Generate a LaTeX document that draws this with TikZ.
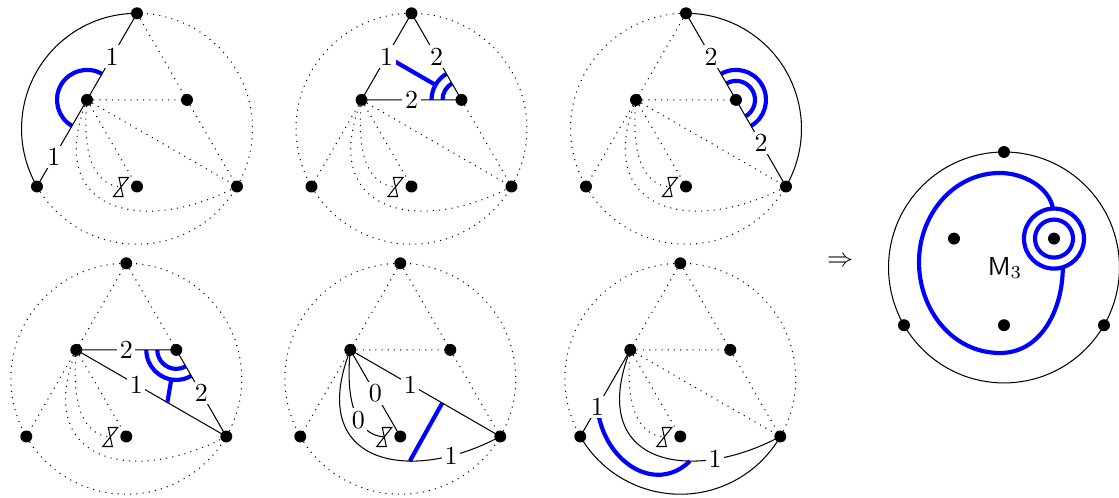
\documentclass[tikz,border=0pt]{standalone}
\usetikzlibrary{calc}
\tikzset{
  dl/.style={dotted},
  bl/.style={blue, line width=1.6pt},
  lab/.style={fill=white, inner sep=1pt},
}
\newcommand\mkpanel[3]{%
  \coordinate (#1T) at (#2,#3);
  \coordinate (#1LM) at ($(#1T)+(-50,86.6)$);
  \coordinate (#1RM) at ($(#1T)+(50,86.6)$);
  \coordinate (#1BL) at ($(#1T)+(-100,173.2)$);
  \coordinate (#1BC) at ($(#1T)+(0,173.2)$);
  \coordinate (#1BR) at ($(#1T)+(100,173.2)$);
  \coordinate (#1H) at ($(#1BC)+(-16,0.5)$);
  \coordinate (#1C) at ($(#1T)+(0,115.47)$);
}
\newcommand\hglass[1]{\draw (#1) +(-2,-9.5) -- +(7.5,-9.5) -- +(-7.5,9.5) -- +(2,9.5) -- cycle;}
\newcommand\arcL[2]{\draw[#1] (#2T) arc[start angle=90,end angle=210,radius=44.41pt];}
\newcommand\arcB[2]{\draw[#1] (#2BL) arc[start angle=210,end angle=330,radius=44.41pt];}
\newcommand\arcR[2]{\draw[#1] (#2BR) arc[start angle=-30,end angle=90,radius=44.41pt];}
\newcommand\lp[1]{(#1LM) .. controls ($(#1LM)+(-45,115)$) and ($(#1LM)+(60,135)$) .. (#1BR)}
\newcommand\hc[1]{(#1LM) .. controls ($(#1LM)+(-5,50)$) and ($(#1LM)+(5,85)$) .. (#1H)}
\begin{document}
\begin{tikzpicture}[x=0.3846pt,y=-0.3846pt]
\useasboundingbox (0,0) rectangle (1119,498);
\mkpanel{a}{137}{13.3}
\mkpanel{b}{411.5}{13.3}
\mkpanel{c}{686}{13.3}
\mkpanel{d}{126.3}{263.3}
\mkpanel{e}{400.3}{263.3}
\mkpanel{f}{680.3}{263.3}
\mkpanel{m}{1004}{152}

% ---------- panel a
\arcR{dl}{a}\arcB{dl}{a}
\draw[dl] (aT)--(aRM) (aRM)--(aBR) (aLM)--(aRM) (aLM)--(aBR) (aLM)--(aBC);
\draw[dl] \hc{a}; \draw[dl] \lp{a};
\draw[bl] (aLM) ++(60:11.54pt) arc[start angle=60,end angle=240,radius=11.54pt];
\arcL{}{a}
\draw (aT) -- node[lab]{1} (aLM) -- node[lab,pos=0.66]{1} (aBL);

% ---------- panel b
\arcL{dl}{b}\arcB{dl}{b}\arcR{dl}{b}
\draw[dl] (bLM)--(bBL) (bRM)--(bBR) (bLM)--(bBR) (bLM)--(bBC);
\draw[dl] \hc{b}; \draw[dl] \lp{b};
\coordinate (bX) at ($(bT)!0.5!(bLM)$);
\draw[bl] ($(bRM)!11.54pt!(bX)$) -- (bX);
\draw[bl] (bRM) ++(120:7.31pt) arc[start angle=120,end angle=180,radius=7.31pt];
\draw[bl] (bRM) ++(120:11.54pt) arc[start angle=120,end angle=180,radius=11.54pt];
\draw (bT) -- node[lab]{1} (bLM) -- node[lab]{2} (bRM) -- node[lab]{2} (bT);

% ---------- panel c
\arcL{dl}{c}\arcB{dl}{c}
\draw[dl] (cT)--(cLM) (cLM)--(cBL) (cLM)--(cRM) (cLM)--(cBR) (cLM)--(cBC);
\draw[dl] \hc{c}; \draw[dl] \lp{c};
\draw[bl] (cRM) ++(-60:7.31pt) arc[start angle=-60,end angle=120,radius=7.31pt];
\draw[bl] (cRM) ++(-60:11.54pt) arc[start angle=-60,end angle=120,radius=11.54pt];
\arcR{}{c}
\draw (cT) -- node[lab]{2} (cRM) -- node[lab]{2} (cBR);

% ---------- panel d
\arcL{dl}{d}\arcB{dl}{d}\arcR{dl}{d}
\draw[dl] (dT)--(dLM) (dT)--(dRM) (dLM)--(dBL) (dLM)--(dBC);
\draw[dl] \hc{d}; \draw[dl] \lp{d};
\coordinate (dX) at ($(dLM)!0.607!(dBR)$);
\draw[bl] (dRM) ++(180:7.31pt) arc[start angle=180,end angle=300,radius=7.31pt];
\draw[bl] (dRM) ++(180:11.54pt) arc[start angle=180,end angle=300,radius=11.54pt];
\draw[bl] ($(dRM)!11.54pt!(dX)$) -- (dX);
\draw (dLM) -- node[lab]{2} (dRM) -- node[lab]{2} (dBR);
\draw (dLM) -- node[lab,pos=0.4]{1} (dBR);

% ---------- panel e
\arcL{dl}{e}\arcB{dl}{e}\arcR{dl}{e}
\draw[dl] (eT)--(eLM) (eT)--(eRM) (eLM)--(eRM) (eRM)--(eBR) (eLM)--(eBL);
\coordinate (eX) at ($(eLM)!0.613!(eBR)$);
\coordinate (eY) at ($(eLM)+(59.5,111.3)$);
\draw[bl] (eX) -- (eY);
\draw (eLM) -- node[lab,pos=0.4]{1} (eBR);
\draw (eLM) -- node[lab]{0} (eBC);
\draw \hc{e} node[lab,pos=0.6]{0};
\draw \lp{e} node[lab,pos=0.82]{1};

% ---------- panel f
\arcL{dl}{f}\arcR{dl}{f}
\draw[dl] (fT)--(fLM) (fT)--(fRM) (fLM)--(fRM) (fRM)--(fBR) (fLM)--(fBR) (fLM)--(fBC);
\draw[dl] \hc{f};
\coordinate (fX) at ($(fLM)!0.66!(fBL)$);
\coordinate (fY) at ($(fLM)+(59.5,111.3)$);
\draw[bl] (fX) .. controls ($(fLM)+(-27,112)$) and ($(fLM)+(25,145)$) .. (fY);
\arcB{}{f}
\draw (fLM) -- node[lab,pos=0.66]{1} (fBL);
\draw \lp{f} node[lab,pos=0.76]{1};

% ---------- hourglasses and dots
\foreach \p in {a,b,c,d,e,f} {\hglass{\p H}}
\foreach \p in {a,b,c,d,e,f,m} \foreach \q in {T,LM,RM,BL,BC,BR} {\fill (\p\q) circle[radius=2.3pt];}

% ---------- arrow and M3
\node (arrow) at (840,262) {$\Rightarrow$};
\draw (mC) circle[radius=44.41pt];
\draw[bl] (mRM) circle[radius=7.31pt] (mRM) circle[radius=11.54pt];
\coordinate (mS) at ($(mRM)+(-1,-30)$);
\coordinate (mE) at ($(mRM)+(8.8,28.7)$);
\draw[bl] (mS) to[out=100,in=0,looseness=0.9] (1000,173) to[out=180,in=90] (919,262)
  to[out=-90,in=180] (1000,353) to[out=0,in=-90] (mE);
\node (mlab) at (1005,268) {$\mathsf{M}_3$};
\end{tikzpicture}
\end{document}
